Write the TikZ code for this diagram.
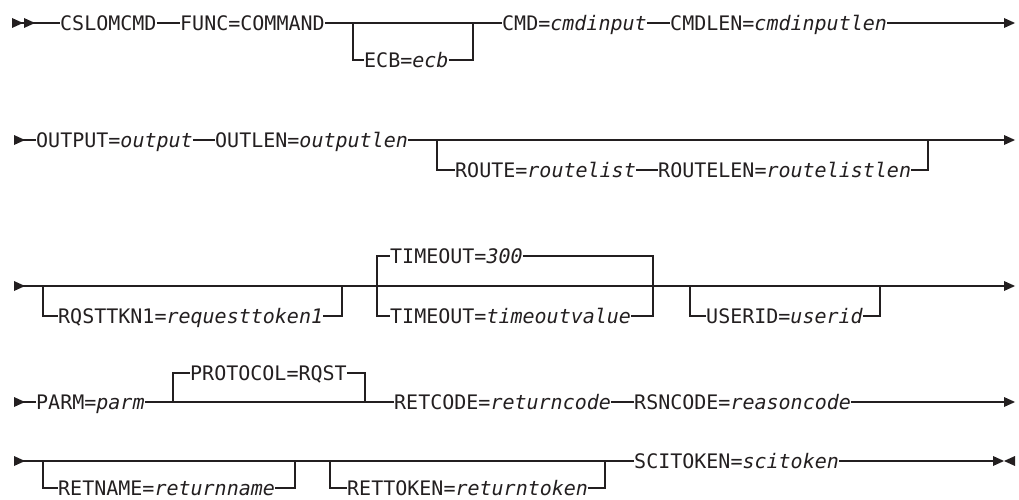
\documentclass[tikz,border=0pt]{standalone}
\usepackage{fontspec}
\newfontfamily\rr{DejaVu Sans Mono}[ItalicFont={DejaVu Sans Mono Oblique}]
\usetikzlibrary{calc}
\definecolor{ink}{RGB}{35,31,32}
\tikzset{
  t/.style={inner sep=0pt, anchor=west, text height=14.6pt, text depth=0pt,
            font=\rr\fontsize{20}{20}\selectfont, text=ink},
  rail/.style={draw=ink, line width=1.2pt},
  rarr/.pic={\fill[ink] (-11,-5) -- (0,0) -- (-11,5) -- cycle;},
  larr/.pic={\fill[ink] (11,-5) -- (0,0) -- (11,5) -- cycle;}
}
\begin{document}
\begin{tikzpicture}[x=1pt,y=-1pt]
\useasboundingbox (0,0) rectangle (1019,500);
% ---------- row 1
\coordinate (s1) at (12,23);
\pic at (23,23) {rarr};
\pic at (35,23) {rarr};
\node[t] (cslo) at (60,23) {CSLOMCMD};
\node[t] (func) at (180,23) {FUNC=COMMAND};
\coordinate (b1l) at (353,23);
\coordinate (b1r) at (473,23);
\node[t] (ecb) at (364,60) {ECB=\textit{ecb}};
\node[t] (cmd) at (502,23) {CMD=\textit{cmdinput}};
\node[t] (cmdlen) at (670,23) {CMDLEN=\textit{cmdinputlen}};
\coordinate (e1) at (1010,23);
\pic at (1015,23) {rarr};
\draw[rail] (s1) -- (cslo.west);
\draw[rail] (cslo.east) -- (func.west);
\draw[rail] (func.east) -- (cmd.west);
\draw[rail] (b1l) |- (ecb.west);
\draw[rail] (ecb.east) -| (b1r);
\draw[rail] (cmd.east) -- (cmdlen.west);
\draw[rail] (cmdlen.east) -- (e1);
% ---------- row 2
\coordinate (s2) at (14,140);
\pic at (25,140) {rarr};
\node[t] (out) at (36,140) {OUTPUT=\textit{output}};
\node[t] (outlen) at (215,140) {OUTLEN=\textit{outputlen}};
\coordinate (b2l) at (437,140);
\coordinate (b2r) at (928,140);
\node[t] (route) at (455,170) {ROUTE=\textit{routelist}};
\node[t] (routelen) at (658,170) {ROUTELEN=\textit{routelistlen}};
\coordinate (e2) at (1010,140);
\pic at (1015,140) {rarr};
\draw[rail] (s2) -- (out.west);
\draw[rail] (out.east) -- (outlen.west);
\draw[rail] (outlen.east) -- (e2);
\draw[rail] (b2l) |- (route.west);
\draw[rail] (route.east) -- (routelen.west);
\draw[rail] (routelen.east) -| (b2r);
% ---------- row 3
\coordinate (s3) at (14,286);
\pic at (25,286) {rarr};
\coordinate (b3l) at (43,286);
\coordinate (b3r) at (342,286);
\node[t] (rqst) at (58,316) {RQSTTKN1=\textit{requesttoken1}};
\coordinate (b4l) at (377,286);
\coordinate (b4r) at (653,286);
\node[t] (tmo1) at (390,256) {TIMEOUT=\textit{300}};
\node[t] (tmo2) at (390,316) {TIMEOUT=\textit{timeoutvalue}};
\coordinate (b5l) at (690,286);
\coordinate (b5r) at (880,286);
\node[t] (user) at (706,316) {USERID=\textit{userid}};
\coordinate (e3) at (1010,286);
\pic at (1015,286) {rarr};
\draw[rail] (s3) -- (e3);
\draw[rail] (b3l) |- (rqst.west);
\draw[rail] (rqst.east) -| (b3r);
\draw[rail] (b4l) |- (tmo1.west);
\draw[rail] (tmo1.east) -| (b4r);
\draw[rail] (b4l) |- (tmo2.west);
\draw[rail] (tmo2.east) -| (b4r);
\draw[rail] (b5l) |- (user.west);
\draw[rail] (user.east) -| (b5r);
% ---------- row 4
\coordinate (s4) at (14,402);
\pic at (25,402) {rarr};
\node[t] (parm) at (36,402) {PARM=\textit{parm}};
\coordinate (b6l) at (173,402);
\coordinate (b6r) at (365,402);
\node[t] (proto) at (190,373) {PROTOCOL=RQST};
\node[t] (ret) at (394,402) {RETCODE=\textit{returncode}};
\node[t] (rsn) at (634,402) {RSNCODE=\textit{reasoncode}};
\coordinate (e4) at (1010,402);
\pic at (1015,402) {rarr};
\draw[rail] (s4) -- (parm.west);
\draw[rail] (parm.east) -- (ret.west);
\draw[rail] (b6l) |- (proto.west);
\draw[rail] (proto.east) -| (b6r);
\draw[rail] (ret.east) -- (rsn.west);
\draw[rail] (rsn.east) -- (e4);
% ---------- row 5
\coordinate (s5) at (14,461);
\pic at (25,461) {rarr};
\coordinate (b7l) at (43,461);
\coordinate (b7r) at (295,461);
\node[t] (rname) at (58,488) {RETNAME=\textit{returnname}};
\coordinate (b8l) at (330,461);
\coordinate (b8r) at (605,461);
\node[t] (rtok) at (347,488) {RETTOKEN=\textit{returntoken}};
\node[t] (sci) at (634,461) {SCITOKEN=\textit{scitoken}};
\coordinate (e5) at (998,461);
\pic at (1004,461) {rarr};
\pic at (1004,461) {larr};
\draw[rail] (s5) -- (sci.west);
\draw[rail] (b7l) |- (rname.west);
\draw[rail] (rname.east) -| (b7r);
\draw[rail] (b8l) |- (rtok.west);
\draw[rail] (rtok.east) -| (b8r);
\draw[rail] (sci.east) -- (e5);
\end{tikzpicture}
\end{document}
